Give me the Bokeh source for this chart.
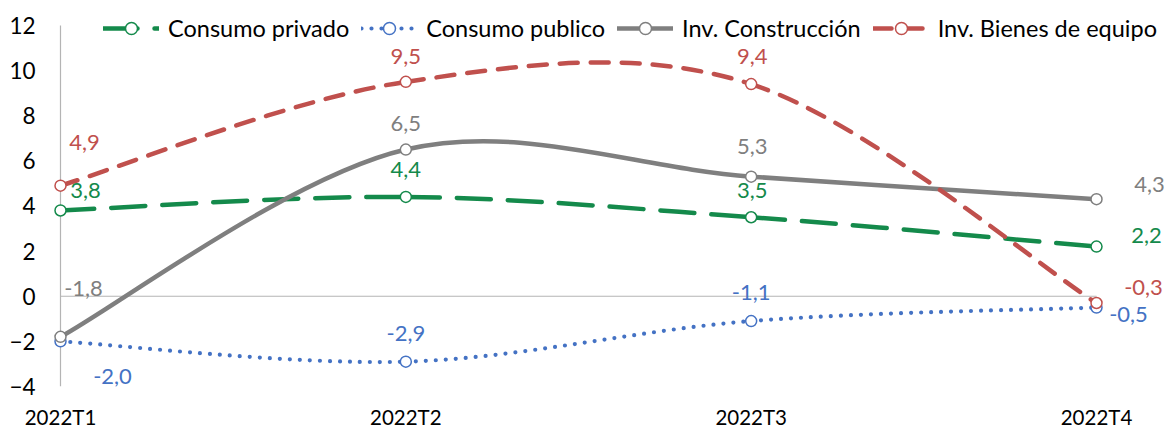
from bokeh.plotting import figure
from bokeh.models import (Range1d, FixedTicker, Legend, LegendItem,
                          ColumnDataSource, LabelSet)
from bokeh.core.properties import value
from bokeh.embed import file_html
from bokeh.resources import INLINE

# ---------------- data ----------------
categories = ["2022T1", "2022T2", "2022T3", "2022T4"]
consumo_privado = [3.8, 4.4, 3.5, 2.2]
consumo_publico = [-2.0, -2.9, -1.1, -0.5]
inv_construccion = [-1.8, 6.5, 5.3, 4.3]
inv_bienes_equipo = [4.9, 9.5, 9.4, -0.3]
y_ticks = [-4, -2, 0, 2, 4, 6, 8, 10, 12]

# ---------------- styles ----------------
FONT = "Lato"
series = [
    dict(name="Consumo privado", values=consumo_privado, color="#148A4B",
         dash="34 17", width=4.5,
         offs=[(25, 20), (0, 27), (1, 27), (50, 11)]),
    dict(name="Consumo publico", values=consumo_publico, color="#4472C4",
         dash="0 10", width=4.2,
         offs=[(52, -35), (0, 28), (0, 29), (32, -7)]),
    dict(name="Inv. Construcción", values=inv_construccion, color="#7F7F7F",
         dash="solid", width=4.5,
         offs=[(23, 48), (0, 26), (1, 30), (53, 15)]),
    dict(name="Inv. Bienes de equipo", values=inv_bienes_equipo, color="#C0504D",
         dash="18 13", width=4.5,
         offs=[(24, 43), (0, 25), (1, 28), (47, 16)]),
]

W, H = 1167, 431
LEFT, TOP, BOTTOM, RIGHT = 46, 2, 44, 2
x0_px, x3_px = 60, 1096      # pixel positions of first / last category
ytop_px, ybot_px = 25, 387   # pixel positions of highest / lowest y tick
n = len(categories)
ppu = (x3_px - x0_px) / (n - 1)
frame_w = W - LEFT - RIGHT
frame_h = H - TOP - BOTTOM
x_start = -(x0_px - LEFT) / ppu
x_end = x_start + frame_w / ppu
ppu_y = (ybot_px - ytop_px) / (y_ticks[-1] - y_ticks[0])
y_start = y_ticks[0] - ((H - BOTTOM) - ybot_px) / ppu_y
y_end = y_ticks[-1] + (ytop_px - TOP) / ppu_y

p = figure(width=W, height=H, output_backend="svg", toolbar_location=None,
           x_range=Range1d(x_start, x_end), y_range=Range1d(y_start, y_end),
           min_border_left=LEFT, min_border_right=RIGHT,
           min_border_top=TOP, min_border_bottom=BOTTOM)
p.outline_line_color = None
p.xgrid.visible = False
p.ygrid.visible = False
p.background_fill_color = "white"
p.border_fill_color = "white"

xs = list(range(n))

# axes
p.xaxis.ticker = FixedTicker(ticks=xs)
p.xaxis.major_label_overrides = {i: c for i, c in enumerate(categories)}
p.yaxis.ticker = FixedTicker(ticks=y_ticks)
for ax in (p.xaxis[0], p.yaxis[0]):
    ax.axis_line_color = None
    ax.major_tick_line_color = None
    ax.minor_tick_line_color = None
    ax.major_tick_out = 0
    ax.major_tick_in = 0
    ax.major_label_text_font = FONT
    ax.major_label_text_color = "black"
p.xaxis.major_label_text_font_size = "20.5px"
p.yaxis.major_label_text_font_size = "22.5px"
p.xaxis.major_label_standoff = 18
p.yaxis.major_label_standoff = 11

# vertical axis line at first category, horizontal line at zero
p.segment(x0=[xs[0]], x1=[xs[0]], y0=[y_ticks[0]], y1=[y_ticks[-1]],
          line_color="#B4B4B4", line_width=1.2)
p.segment(x0=[xs[0]], x1=[xs[-1]], y0=[0], y1=[0], line_color="#B4B4B4", line_width=1.2)

legend_items = []
for s in series:
    ys = s["values"]
    # smoothed curve (Catmull-Rom as cubic Bezier, like Excel's smoothed line)
    bx0, by0, bx1, by1, cx0, cy0, cx1, cy1 = [], [], [], [], [], [], [], []
    for i in range(n - 1):
        im1 = max(i - 1, 0)
        ip2 = min(i + 2, n - 1)
        bx0.append(xs[i]); by0.append(ys[i])
        bx1.append(xs[i + 1]); by1.append(ys[i + 1])
        cx0.append(xs[i] + (xs[i + 1] - xs[im1]) / 6)
        cy0.append(ys[i] + (ys[i + 1] - ys[im1]) / 6)
        cx1.append(xs[i + 1] - (xs[ip2] - xs[i]) / 6)
        cy1.append(ys[i + 1] - (ys[ip2] - ys[i]) / 6)
    p.bezier(x0=bx0, y0=by0, x1=bx1, y1=by1, cx0=cx0, cy0=cy0, cx1=cx1, cy1=cy1,
             line_color=s["color"], line_width=s["width"], line_dash=s["dash"],
             line_cap="round")
    # legend proxy line (not drawn in the plot: NaN data)
    lr = p.line(x=[float("nan")], y=[float("nan")], line_color=s["color"],
                line_width=s["width"], line_dash=s["dash"], line_cap="round")
    sr = p.scatter(x=xs, y=ys, size=11, marker="circle", fill_color="white",
                   line_color=s["color"], line_width=1.5)
    legend_items.append(LegendItem(label=s["name"], renderers=[lr, sr]))

    src = ColumnDataSource(dict(
        x=xs, y=ys,
        t=[f"{v:.1f}".replace(".", ",") for v in ys],
        dx=[o[0] for o in s["offs"]],
        dy=[o[1] for o in s["offs"]],
    ))
    p.add_layout(LabelSet(x="x", y="y", text="t", source=src,
                          x_offset="dx", y_offset="dy",
                          text_align="center", text_baseline="middle",
                          text_font=value(FONT), text_font_size=value("22px"),
                          text_color=s["color"]))

legend = Legend(items=legend_items, orientation="horizontal",
                location=(103 - LEFT, frame_h - (44 - TOP)),
                glyph_width=56, glyph_height=30, label_standoff=9, spacing=12,
                label_height=30,
                padding=0, margin=0, border_line_color=None,
                background_fill_alpha=0,
                label_text_font=FONT, label_text_font_size="23.5px",
                label_text_color="black")
p.add_layout(legend)

open("out.html", "w").write(file_html(p, INLINE))
